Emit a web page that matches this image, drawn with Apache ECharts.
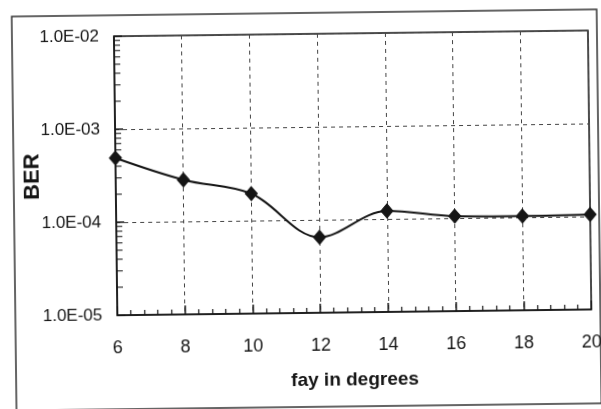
<!DOCTYPE html>
<html>
<head>
    <meta charset="utf-8">
    <title>BER vs fay</title>
    <script src="https://cdn.jsdelivr.net/npm/echarts@6/dist/echarts.min.js"></script>
    <style>
        html, body { margin: 0; padding: 0; background: #fff; }
        #chart_box {
            width: 601px;
            height: 409px;
            transform: rotate(-0.7deg);
        }
    </style>
</head>
<body>
    <div id="chart_box"></div>
    <script>
        // data
        var fayDeg = [6, 8, 10, 12, 14, 16, 18, 20];
        var berVals = [4.9e-4, 2.8e-4, 1.95e-4, 6.5e-5, 1.22e-4, 1.05e-4, 1.03e-4, 1.05e-4];
        var yTickLabels = ['1.0E-05', '1.0E-04', '1.0E-03', '1.0E-02'];

        // log minor ticks 2..9 of every decade
        var yMinor = [];
        [1e-5, 1e-4, 1e-3].forEach(function(d) {
            for (var k = 2; k <= 9; k++) yMinor.push([6, k * d]);
        });

        var labelFont = "'Liberation Sans', Arial, sans-serif";
        var ink = '#151515';

        var myChart = echarts.init(document.getElementById('chart_box'));
        var option = {
            backgroundColor: '#fff',
            animation: false,
            grid: {
                left: 116,
                right: 11,
                top: 34,
                bottom: 96,
                containLabel: false,
                outerBoundsMode: 'none',
                show: true,
                borderColor: ink,
                borderWidth: 1.5,
                backgroundColor: 'transparent'
            },
            graphic: [{
                type: 'rect',
                shape: { x: 14, y: 13, width: 585, height: 394 },
                style: { fill: 'none', stroke: '#333', lineWidth: 1.5 },
                silent: true
            }],
            xAxis: {
                type: 'value',
                min: 6,
                max: 20,
                interval: 2,
                name: 'fay in degrees',
                nameLocation: 'middle',
                nameGap: 58,
                nameMoveOverlap: false,
                nameTextStyle: {
                    color: ink,
                    fontSize: 19,
                    fontWeight: 'bold',
                    fontFamily: labelFont
                },
                axisLine: { show: true, lineStyle: { color: ink, width: 1.5 } },
                axisTick: { show: true, inside: true, length: 9, lineStyle: { color: ink, width: 1.5 } },
                minorTick: { show: true, splitNumber: 5, length: 5, lineStyle: { color: ink, width: 1.2 } },
                axisLabel: {
                    margin: 24,
                    color: ink,
                    fontSize: 18,
                    fontFamily: labelFont
                },
                splitLine: {
                    show: true,
                    lineStyle: { color: '#444', type: [4, 4], width: 1 }
                }
            },
            yAxis: {
                type: 'log',
                logBase: 10,
                min: 1e-5,
                max: 1e-2,
                name: 'BER',
                nameLocation: 'middle',
                nameGap: 72,
                nameMoveOverlap: false,
                nameTextStyle: {
                    color: ink,
                    fontSize: 22,
                    fontWeight: 'bold',
                    fontFamily: labelFont
                },
                axisLine: { show: true, lineStyle: { color: ink, width: 1.5 } },
                axisTick: { show: true, inside: true, length: 8, lineStyle: { color: ink, width: 1.5 } },
                axisLabel: {
                    margin: 15,
                    color: ink,
                    fontSize: 17,
                    fontFamily: labelFont,
                    formatter: function(value) {
                        var e = Math.round(Math.log10(value));
                        return yTickLabels[e + 5];
                    }
                },
                splitLine: {
                    show: true,
                    lineStyle: { color: '#444', type: [4, 4], width: 1 }
                }
            },
            series: [{
                name: 'minor',
                type: 'scatter',
                silent: true,
                clip: false,
                data: yMinor,
                symbol: 'rect',
                symbolSize: [6, 1.3],
                symbolOffset: [3, 0],
                itemStyle: { color: ink },
                z: 3
            }, {
                name: 'BER',
                type: 'line',
                smooth: 0.35,
                data: fayDeg.map(function(x, i) { return [x, berVals[i]]; }),
                symbol: 'diamond',
                symbolSize: [12, 14],
                showAllSymbol: true,
                lineStyle: { color: ink, width: 2 },
                itemStyle: { color: ink, borderColor: ink },
                z: 5
            }]
        };
        myChart.setOption(option);
    </script>
</body>
</html>
